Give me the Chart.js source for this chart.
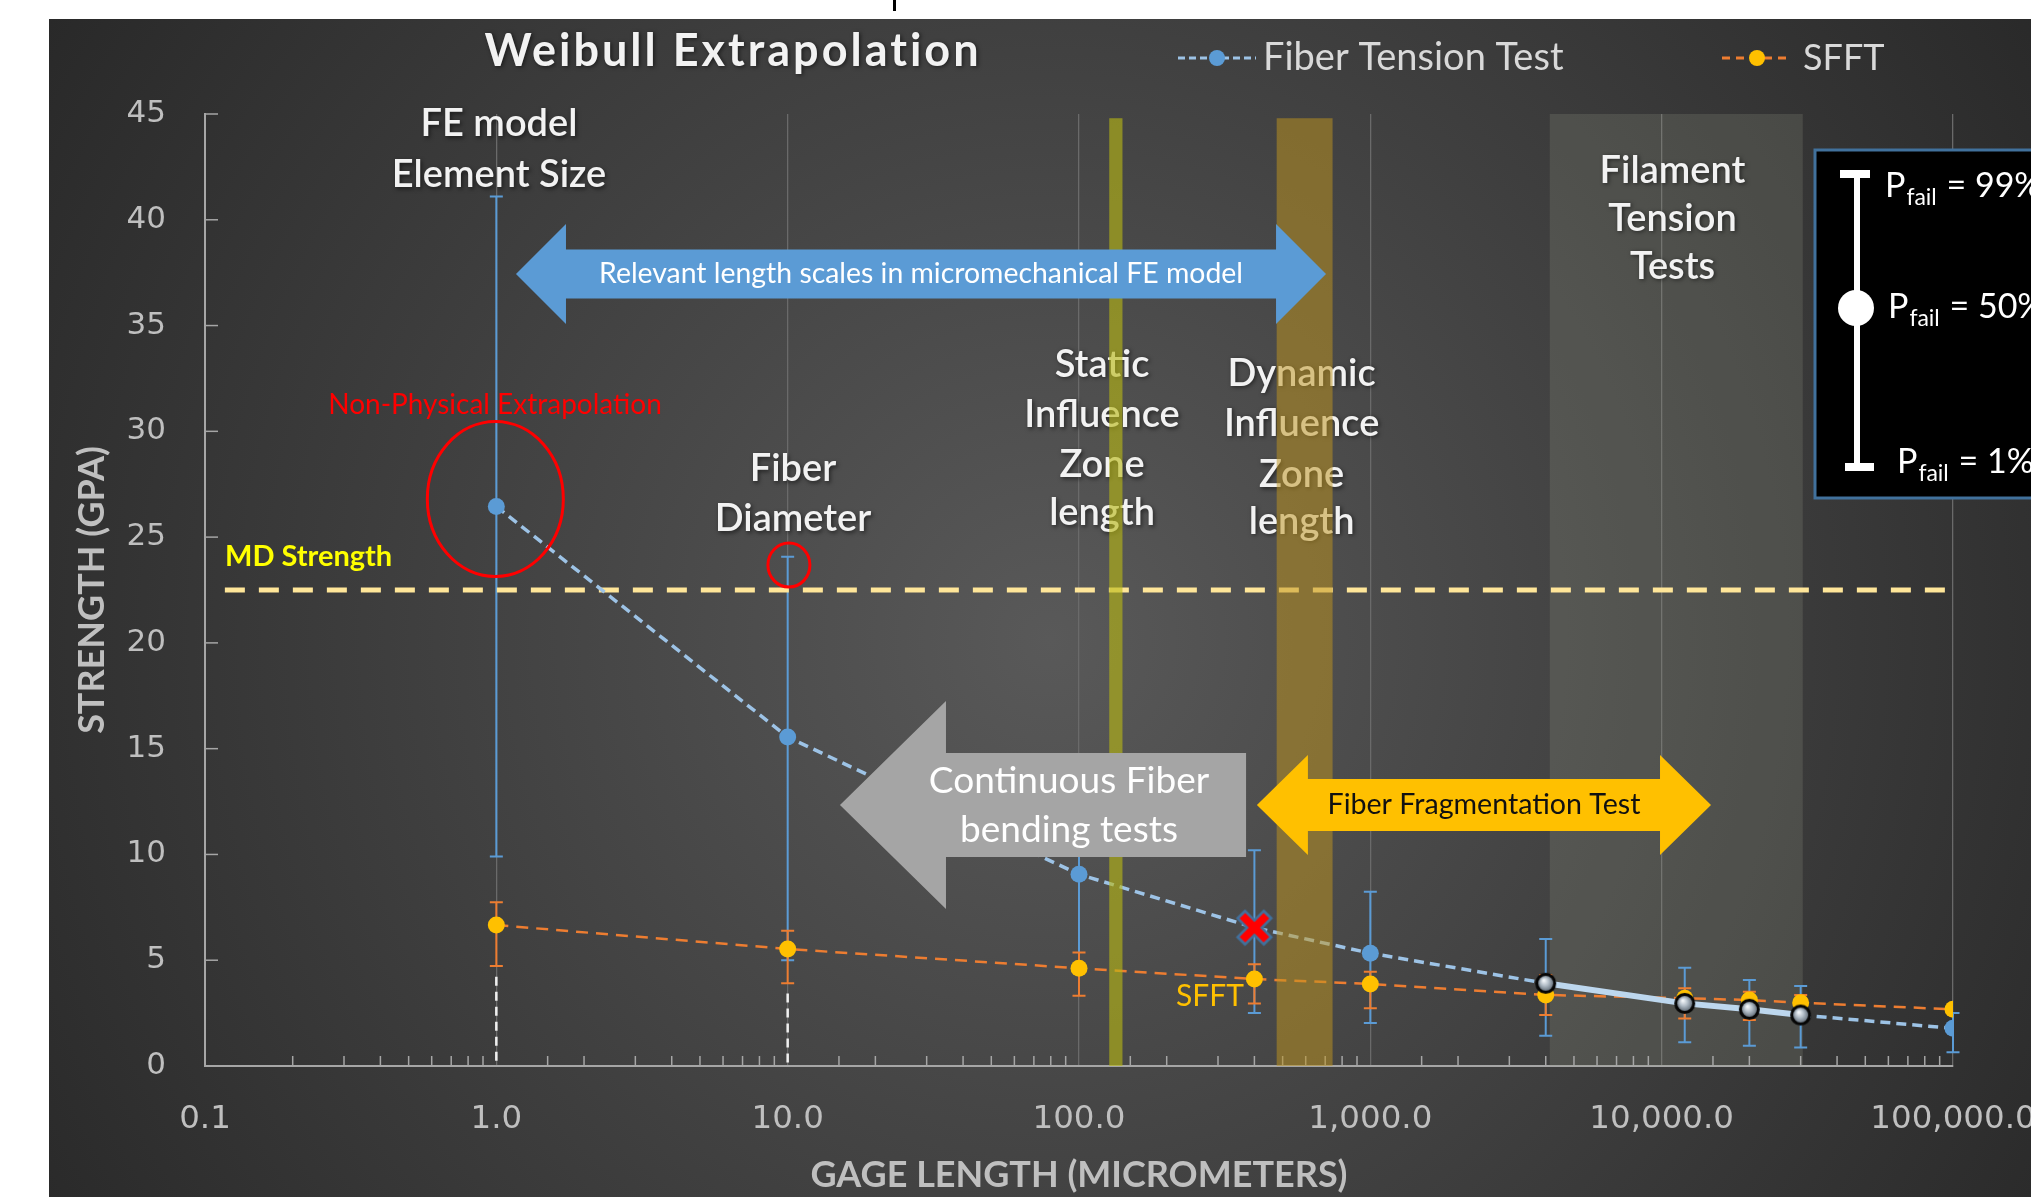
<!DOCTYPE html>
<html><head><meta charset="utf-8">
<style>html,body{margin:0;padding:0;background:#fff;overflow:hidden}</style>
<script src="https://cdn.jsdelivr.net/npm/chart.js@4.4.1/dist/chart.umd.min.js"></script>
</head><body>
<canvas id="c" width="2031" height="1197"></canvas>
<script>
// ---------------- data ----------------
const gageLengths      = [1, 10, 100, 400, 1000, 4000, 12000, 20000, 30000, 100000];
const fiberTension     = [26.45, 15.55, 9.06, 6.54, 5.33, 3.91, 2.96, 2.68, 2.41, 1.78];
const fiberTensionHigh = [41.1, 24.07, 13.5, 10.2, 8.24, 6.0, 4.65, 4.06, 3.78, 2.5];
const fiberTensionLow  = [9.9, 5.0, 4.7, 2.5, 2.03, 1.43, 1.12, 0.96, 0.88, 0.65];
const sfft             = [6.66, 5.53, 4.62, 4.11, 3.88, 3.36, 3.2, 3.12, 2.99, 2.68];
const sfftHigh         = [7.74, 6.39, 5.36, 4.81, 4.46, 4.3, 3.67, 3.51, 3.36, null];
const sfftLow          = [4.73, 3.91, 3.32, 2.96, 2.73, 2.41, 2.25, 2.17, 2.6, null];
const mdStrength = 22.5;
const mdRange = [0.117, 100000];
const dropLineX = [1, 10];
const dropLineTop = [4.22, 3.43];
const staticZone = [127, 141];
const dynamicZone = [477, 742];
const filamentZone = [4130, 30500];
const xTickValues = [0.1, 1, 10, 100, 1000, 10000, 100000];
const xTickLabels = ['0.1', '1.0', '10.0', '100.0', '1,000.0', '10,000.0', '100,000.0'];
const yTickValues = [0, 5, 10, 15, 20, 25, 30, 35, 40, 45];
const seriesNames = ['Fiber Tension Test', 'SFFT'];
const metallicIdx = [5, 6, 7, 8];
const crossIdx = 3;

// ---------------- annotation layout (data coordinates) ----------------
const textNotes = [
  {lines: ['FE model', 'Element Size'], x: 1.021, y: [44.53, 42.12]},
  {lines: ['Fiber', 'Diameter'], x: 10.43, y: [28.22, 25.85]},
  {lines: ['Static', 'Influence', 'Zone', 'length'], x: 120, y: [33.17, 30.77, 28.4, 26.14]},
  {lines: ['Dynamic', 'Influence', 'Zone', 'length'], x: 581, y: [32.74, 30.37, 27.94, 25.73]},
  {lines: ['Filament', 'Tension', 'Tests'], x: 10895, y: [42.34, 40.07, 37.78]}
];
const blueArrow = {x1: 1.168, x2: 704.6, y: 37.44, text: 'Relevant length scales in micromechanical FE model'};
const grayArrow = {x1: 15.12, x2: 374.5, y: 12.34, textX: 92.4, textY: [13.47, 11.15], lines: ['Continuous Fiber', 'bending tests']};
const yellowArrow = {x1: 408, x2: 14770, y: 12.34, text: 'Fiber Fragmentation Test'};
const ellipses = [{x: 0.992, y: 26.8, rx: 68, ry: 77.5}, {x: 10.1, y: 23.68, rx: 21, ry: 22}];
const redNote = {text: 'Non-Physical Extrapolation', x: 0.9895, y: 31.24};
const mdNote = {text: 'MD Strength', x: 0.1171, y: 24.06};
const sfftNote = {text: 'SFFT', x: 281.6, y: 3.28};

const W = 2031, H = 1197;
const BLUE = '#5b9bd5', LIGHTBLUE = '#9dc3e6', ORANGE = '#ed7d31', GOLD = '#ffc000';

function isDecade(v) { const l = Math.log10(v); return Math.abs(l - Math.round(l)) < 1e-7; }

// point images
function makeSphere(r) {
  const s = Math.ceil(r * 2 + 6), c = document.createElement('canvas');
  c.width = s; c.height = s;
  const g = c.getContext('2d'), cx = s / 2, cy = s / 2;
  g.beginPath(); g.arc(cx, cy, r, 0, Math.PI * 2); g.fillStyle = '#060606'; g.fill();
  const gr = g.createRadialGradient(cx - 2, cy - 3, 0.5, cx, cy, r - 2);
  gr.addColorStop(0, '#f5f8fb'); gr.addColorStop(0.45, '#b3bec8'); gr.addColorStop(1, '#5d6873');
  g.beginPath(); g.arc(cx, cy, r - 3, 0, Math.PI * 2); g.fillStyle = gr; g.fill();
  return c;
}
function makeCross() {
  const c = document.createElement('canvas'); c.width = 44; c.height = 40;
  const g = c.getContext('2d'); const cx = 22, cy = 20, d = 12;
  const path = (e) => { g.beginPath(); g.moveTo(cx - d - e, cy - d - e); g.lineTo(cx + d + e, cy + d + e); g.moveTo(cx + d + e, cy - d - e); g.lineTo(cx - d - e, cy + d + e); g.stroke(); };
  g.lineCap = 'butt'; g.strokeStyle = '#41719c'; g.lineWidth = 13; path(2);
  g.strokeStyle = '#ff0000'; g.lineWidth = 8; path(0);
  return c;
}
const sphereImg = makeSphere(10.5);
const crossImg = makeCross();

// ---------------- helpers ----------------
function txt(c, s, x, y, font, color, align, shadow) {
  c.save();
  c.font = font; c.fillStyle = color; c.textAlign = align || 'center'; c.textBaseline = 'middle';
  if (shadow) { c.shadowColor = 'rgba(0,0,0,0.55)'; c.shadowBlur = 4; c.shadowOffsetX = 1.5; c.shadowOffsetY = 1.5; }
  c.fillText(s, x, y);
  c.restore();
}
function dblArrow(c, x1, x2, yc, sh, hh, hl, color) {
  c.beginPath();
  c.moveTo(x1, yc); c.lineTo(x1 + hl, yc - hh); c.lineTo(x1 + hl, yc - sh); c.lineTo(x2 - hl, yc - sh);
  c.lineTo(x2 - hl, yc - hh); c.lineTo(x2, yc); c.lineTo(x2 - hl, yc + hh); c.lineTo(x2 - hl, yc + sh);
  c.lineTo(x1 + hl, yc + sh); c.lineTo(x1 + hl, yc + hh); c.closePath();
  c.fillStyle = color; c.fill();
}
function leftArrow(c, x1, x2, yc, sh, hh, hl, color) {
  c.beginPath();
  c.moveTo(x1, yc); c.lineTo(x1 + hl, yc - hh); c.lineTo(x1 + hl, yc - sh); c.lineTo(x2, yc - sh);
  c.lineTo(x2, yc + sh); c.lineTo(x1 + hl, yc + sh); c.lineTo(x1 + hl, yc + hh); c.closePath();
  c.fillStyle = color; c.fill();
}

// ---------------- plugins ----------------
const bgPlugin = {
  id: 'bg',
  beforeDraw(chart) {
    const c = chart.ctx; c.save();
    c.fillStyle = '#ffffff'; c.fillRect(0, 0, W, H);
    const g = c.createRadialGradient(1050, 640, 0, 1050, 640, 1300);
    g.addColorStop(0, '#595959'); g.addColorStop(1, '#242424');
    c.fillStyle = g; c.fillRect(49, 19, W - 49, H - 19);
    c.fillStyle = '#000'; c.fillRect(893, 0, 3, 11);
    c.restore();
  }
};

const underPlugin = {
  id: 'under',
  beforeDatasetsDraw(chart) {
    const c = chart.ctx, xs = chart.scales.x, ys = chart.scales.y, ca = chart.chartArea;
    c.save();
    // filament tension test region
    const fx1 = xs.getPixelForValue(filamentZone[0]), fx2 = xs.getPixelForValue(filamentZone[1]);
    c.fillStyle = 'rgba(150,156,138,0.22)';
    c.fillRect(fx1, ys.getPixelForValue(45), fx2 - fx1, ys.getPixelForValue(0) - ys.getPixelForValue(45));
    // inward y ticks
    c.strokeStyle = '#a6a6a6'; c.lineWidth = 1.5;
    yTickValues.forEach(v => { const y = ys.getPixelForValue(v); c.beginPath(); c.moveTo(ca.left, y); c.lineTo(ca.left + 13, y); c.stroke(); });
    // minor x ticks pointing up
    xs.ticks.forEach(t => { if (isDecade(t.value)) return; const x = xs.getPixelForValue(t.value); c.beginPath(); c.moveTo(x, ca.bottom); c.lineTo(x, ca.bottom - 10); c.stroke(); });
    // white dashed drop lines
    c.strokeStyle = '#f0f0f0'; c.lineWidth = 2.5; c.setLineDash([9, 6]);
    dropLineX.forEach((x, i) => { const px = xs.getPixelForValue(x); c.beginPath(); c.moveTo(px, ys.getPixelForValue(dropLineTop[i])); c.lineTo(px, ys.getPixelForValue(0)); c.stroke(); });
    c.setLineDash([]);
    // error bars
    const err = (lo, hi, color, cap) => {
      c.strokeStyle = color; c.lineWidth = 2;
      gageLengths.forEach((g, i) => {
        if (hi[i] == null || lo[i] == null) return;
        const px = xs.getPixelForValue(g), y1 = ys.getPixelForValue(hi[i]), y2 = ys.getPixelForValue(lo[i]);
        c.beginPath(); c.moveTo(px, y1); c.lineTo(px, y2);
        c.moveTo(px - cap, y1); c.lineTo(px + cap, y1); c.moveTo(px - cap, y2); c.lineTo(px + cap, y2); c.stroke();
      });
    };
    err(fiberTensionLow, fiberTensionHigh, BLUE, 6.5);
    err(sfftLow, sfftHigh, ORANGE, 6.5);
    c.restore();
  }
};

const overPlugin = {
  id: 'over',
  afterDatasetsDraw(chart) {
    const c = chart.ctx, xs = chart.scales.x, ys = chart.scales.y, ca = chart.chartArea;
    const px = v => xs.getPixelForValue(v), py = v => ys.getPixelForValue(v);
    c.save();
    // white annotation texts
    textNotes.forEach(n => n.lines.forEach((s, i) => txt(c, s, px(n.x), py(n.y[i]), '600 38px Lato', '#f2f2f2', 'center', true)));
    // influence zone bands (semi-transparent over text)
    const top = py(44.8), bot = py(0);
    c.fillStyle = 'rgba(184,184,20,0.62)';
    c.fillRect(px(staticZone[0]), top, px(staticZone[1]) - px(staticZone[0]), bot - top);
    c.fillStyle = 'rgba(190,148,30,0.52)';
    c.fillRect(px(dynamicZone[0]), top, px(dynamicZone[1]) - px(dynamicZone[0]), bot - top);
    // red notes
    txt(c, redNote.text, px(redNote.x), py(redNote.y), '28px Lato', '#ff0000', 'center', false);
    c.strokeStyle = '#ff0000'; c.lineWidth = 3;
    ellipses.forEach(e => { c.beginPath(); c.ellipse(px(e.x), py(e.y), e.rx, e.ry, 0, 0, Math.PI * 2); c.stroke(); });
    txt(c, mdNote.text, px(mdNote.x), py(mdNote.y), 'bold 29px Lato', '#ffff00', 'left', false);
    txt(c, sfftNote.text, px(sfftNote.x), py(sfftNote.y), '30px Lato', GOLD, 'center', false);
    // arrows
    const by = py(blueArrow.y), bx1 = px(blueArrow.x1), bx2 = px(blueArrow.x2);
    dblArrow(c, bx1, bx2, by, 24.5, 50, 50, BLUE);
    txt(c, blueArrow.text, (bx1 + bx2) / 2, by, '28.4px Lato', '#ffffff', 'center', false);
    const gy = py(grayArrow.y);
    leftArrow(c, px(grayArrow.x1), px(grayArrow.x2), gy, 52, 104, 106, '#a5a5a5');
    grayArrow.lines.forEach((s, i) => txt(c, s, px(grayArrow.textX), py(grayArrow.textY[i]), '37px Lato', '#ffffff', 'center', false));
    const yy = py(yellowArrow.y), yx1 = px(yellowArrow.x1), yx2 = px(yellowArrow.x2);
    dblArrow(c, yx1, yx2, yy, 26, 50, 51, GOLD);
    txt(c, yellowArrow.text, (yx1 + yx2) / 2, yy, '28.6px Lato', '#111111', 'center', false);
    // inset error-bar key
    const L = ca.right - 138, T = ca.top + 36;
    c.fillStyle = '#000'; c.fillRect(L, T, 260, 348);
    c.strokeStyle = '#41719c'; c.lineWidth = 3; c.strokeRect(L, T, 260, 348);
    c.fillStyle = '#fff';
    c.fillRect(L + 39, T + 22, 6, 293);
    c.fillRect(L + 25, T + 20, 30, 8);
    c.fillRect(L + 30, T + 313, 29, 8);
    c.beginPath(); c.arc(L + 41, T + 158, 18, 0, Math.PI * 2); c.fill();
    const pf = (x, yb, pct) => {
      c.textAlign = 'left'; c.textBaseline = 'alphabetic'; c.fillStyle = '#fff';
      c.font = '34px Lato'; c.fillText('P', x, yb); const w1 = c.measureText('P').width;
      c.font = '23px Lato'; c.fillText('fail', x + w1 + 1, yb + 8); const w2 = c.measureText('fail').width;
      c.font = '34px Lato'; c.fillText(' = ' + pct, x + w1 + w2 + 2, yb);
    };
    pf(L + 70, T + 47, '99%'); pf(L + 73, T + 168, '50%'); pf(L + 82, T + 323, '1%');
    // title
    c.save();
    c.letterSpacing = '3px';
    txt(c, 'Weibull Extrapolation', 733, 51, 'bold 45px Lato', '#f2f2f2', 'center', true);
    c.restore();
    // legend
    const legY = 58;
    c.lineWidth = 3;
    c.strokeStyle = LIGHTBLUE; c.setLineDash([7, 4]); c.beginPath(); c.moveTo(1178, legY); c.lineTo(1256, legY); c.stroke();
    c.strokeStyle = ORANGE; c.setLineDash([8, 6]); c.beginPath(); c.moveTo(1722, legY); c.lineTo(1792, legY); c.stroke();
    c.setLineDash([]);
    c.fillStyle = BLUE; c.beginPath(); c.arc(1217, legY, 8, 0, Math.PI * 2); c.fill();
    c.fillStyle = GOLD; c.beginPath(); c.arc(1757, legY, 8, 0, Math.PI * 2); c.fill();
    txt(c, seriesNames[0], 1263, legY, '38px Lato', '#d9d9d9', 'left', false);
    txt(c, seriesNames[1], 1803, legY, '36px Lato', '#d9d9d9', 'left', false);
    c.restore();
  }
};

// ---------------- chart ----------------
const inSolid = (ctx) => metallicIdx.includes(ctx.p0DataIndex) && metallicIdx.includes(ctx.p1DataIndex);

new Chart(document.getElementById('c'), {
  type: 'line',
  data: {
    datasets: [
      {
        label: seriesNames[0],
        data: gageLengths.map((x, i) => ({x, y: fiberTension[i]})),
        borderColor: LIGHTBLUE, borderWidth: 3.5, borderDash: [10, 6], tension: 0,
        pointRadius: 8.5,
        pointStyle: (ctx) => ctx.dataIndex === crossIdx ? crossImg : (metallicIdx.includes(ctx.dataIndex) ? sphereImg : 'circle'),
        pointBackgroundColor: BLUE, pointBorderWidth: 0,
        segment: {
          borderDash: (ctx) => inSolid(ctx) ? [] : [10, 6],
          borderWidth: (ctx) => inSolid(ctx) ? 6 : 3.5,
          borderColor: (ctx) => inSolid(ctx) ? '#bdd7ee' : LIGHTBLUE
        }
      },
      {
        label: seriesNames[1],
        data: gageLengths.map((x, i) => ({x, y: sfft[i]})),
        borderColor: ORANGE, borderWidth: 2.5, borderDash: [12, 8], tension: 0,
        pointRadius: 8.5, pointBackgroundColor: GOLD, pointBorderWidth: 0
      },
      {
        label: 'MD Strength',
        data: mdRange.map(x => ({x, y: mdStrength})),
        borderColor: '#ffe699', borderWidth: 5, borderDash: [20, 14], pointRadius: 0
      }
    ]
  },
  options: {
    responsive: false, animation: false, events: [],
    layout: {padding: {left: 49, top: 114, right: 78, bottom: 0}},
    plugins: {legend: {display: false}, title: {display: false}, tooltip: {enabled: false}},
    scales: {
      x: {
        type: 'logarithmic', min: 0.1, max: 100000,
        afterFit: (s) => { s.height = 131; s.paddingLeft = 0; s.paddingRight = 0; },
        ticks: {
          autoSkip: false, maxRotation: 0, minRotation: 0, padding: 34, color: '#bfbfbf', font: {family: 'DejaVu Sans', size: 32.5},
          callback: (v) => { const i = xTickValues.findIndex(t => Math.abs(Math.log10(t) - Math.log10(v)) < 1e-7); return i >= 0 ? xTickLabels[i] : ''; }
        },
        grid: {drawTicks: false, lineWidth: 1.3, color: (ctx) => (ctx.tick && isDecade(ctx.tick.value)) ? '#6a6a6a' : 'rgba(0,0,0,0)'},
        border: {color: '#a6a6a6', width: 2},
        title: {display: true, text: 'GAGE LENGTH (MICROMETERS)', color: '#bfbfbf', font: {family: 'Lato', weight: 'bold', size: 36}, padding: 0}
      },
      y: {
        min: 0, max: 45,
        afterFit: (s) => { s.width = 156; },
        afterBuildTicks: (s) => { s.ticks = yTickValues.map(v => ({value: v})); },
        ticks: {padding: 39, color: '#bfbfbf', font: {family: 'DejaVu Sans', size: 31}},
        grid: {drawOnChartArea: false, drawTicks: false},
        border: {color: '#a6a6a6', width: 2},
        title: {display: true, text: 'STRENGTH (GPA)', color: '#bfbfbf', font: {family: 'Lato', weight: 'bold', size: 36}, padding: {top: 22, bottom: 0}}
      }
    }
  },
  plugins: [bgPlugin, underPlugin, overPlugin]
});
</script>
</body></html>
